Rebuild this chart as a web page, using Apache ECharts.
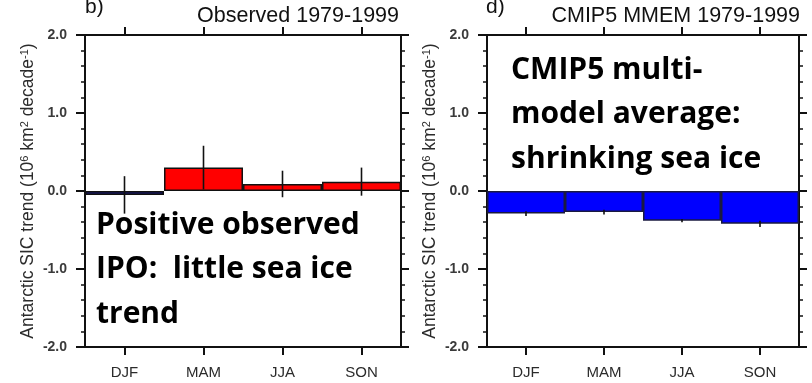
<!DOCTYPE html>
<html>
<head>
<meta charset="utf-8">
<title>Antarctic SIC trends 1979-1999</title>
<script src="https://cdn.jsdelivr.net/npm/echarts@6/dist/echarts.min.js"></script>
<style>
  html, body { margin: 0; padding: 0; background: #ffffff; }
  #chart { width: 812px; height: 383px; }
</style>
</head>
<body>
<div id="chart"></div>
<script>
// Seasons on the category axis
const seasons = ['DJF', 'MAM', 'JJA', 'SON'];

// Observed Antarctic SIC trend, 1979-1999 (10^6 km^2 per decade)
const observedTrend = [-0.05, 0.30, 0.09, 0.12];
const observedSpread = [0.24, 0.28, 0.17, 0.18];

// CMIP5 multi-model ensemble mean trend, 1979-1999
const mmemTrend = [-0.29, -0.27, -0.38, -0.42];
const mmemSpread = [0.03, 0.03, 0.02, 0.04];

// Y-axis tick values
const yTicks = [-2.0, -1.0, 0.0, 1.0, 2.0];

const panelTitles = ['Observed 1979-1999', 'CMIP5 MMEM 1979-1999'];
const panelLetters = ['b)', 'd)'];
const notes = [
  'Positive observed\nIPO:  little sea ice\ntrend',
  'CMIP5 multi-\nmodel average:\nshrinking sea ice'
];

const grids = [
  { left: 85, top: 35, width: 316, height: 312 },
  { left: 487, top: 35, width: 312, height: 312 }
];

const ink = '#111111';
const labelColor = '#2b2b2b';

function bottomAxis(gi) {
  return {
    type: 'category', gridIndex: gi, data: seasons, position: 'bottom',
    boundaryGap: true,
    axisLine: { show: true, onZero: false, lineStyle: { color: ink, width: 2 } },
    axisTick: { show: true, alignWithLabel: true, inside: false, length: 8, lineStyle: { color: ink, width: 2 } },
    axisLabel: { show: true, margin: 18, color: labelColor, fontSize: 15, fontFamily: 'Liberation Sans' },
    splitLine: { show: false }
  };
}
function topAxis(gi) {
  return {
    type: 'category', gridIndex: gi, data: seasons, position: 'top',
    boundaryGap: true,
    axisLine: { show: true, onZero: false, lineStyle: { color: ink, width: 2 } },
    axisTick: { show: true, alignWithLabel: true, length: 8, lineStyle: { color: ink, width: 2 } },
    axisLabel: { show: false },
    splitLine: { show: false }
  };
}
const yName = 'Antarctic SIC trend (10{sup|6} km{sup|2} decade{sup|-1})';
function leftAxis(gi) {
  return {
    type: 'value', gridIndex: gi, position: 'left',
    min: yTicks[0], max: yTicks[yTicks.length - 1], interval: 1,
    name: yName, nameLocation: 'middle', nameRotate: 90, nameGap: 47,
    nameTextStyle: {
      color: labelColor, fontSize: 17.5, fontFamily: 'Liberation Sans',
      rich: { sup: { fontSize: 11, color: labelColor, fontFamily: 'Liberation Sans', verticalAlign: 'top', padding: [0, 0, 8, 0] } }
    },
    axisLine: { show: true, onZero: false, lineStyle: { color: ink, width: 2 } },
    axisTick: { show: true, length: 9, lineStyle: { color: ink, width: 2 } },
    minorTick: { show: true, splitNumber: 5, length: 4, lineStyle: { color: ink, width: 1.5 } },
    axisLabel: {
      margin: 18, color: '#3a3a3a', fontSize: 14, fontWeight: 'bold', fontFamily: 'Liberation Sans',
      formatter: v => v.toFixed(1)
    },
    splitLine: { show: false }
  };
}
function rightAxis(gi) {
  return {
    type: 'value', gridIndex: gi, position: 'right',
    min: yTicks[0], max: yTicks[yTicks.length - 1], interval: 1,
    axisLine: { show: true, onZero: false, lineStyle: { color: ink, width: 2 } },
    axisTick: { show: true, length: 8, lineStyle: { color: ink, width: 2 } },
    minorTick: { show: true, splitNumber: 5, length: 4, lineStyle: { color: ink, width: 1.5 } },
    axisLabel: { show: false },
    splitLine: { show: false }
  };
}

function errorBars(xi, yi, values, spread) {
  return {
    type: 'custom', xAxisIndex: xi, yAxisIndex: yi, z: 5,
    data: values.map((v, i) => [i, v - spread[i], v + spread[i]]),
    renderItem: function (params, api) {
      const lo = api.coord([api.value(0), api.value(1)]);
      const hi = api.coord([api.value(0), api.value(2)]);
      return {
        type: 'line',
        shape: { x1: lo[0], y1: lo[1], x2: hi[0], y2: hi[1] },
        style: { stroke: ink, lineWidth: 1.6 }
      };
    }
  };
}

const option = {
  animation: false,
  backgroundColor: '#ffffff',
  grid: grids,
  xAxis: [bottomAxis(0), topAxis(0), bottomAxis(1), topAxis(1)],
  yAxis: [leftAxis(0), rightAxis(0), leftAxis(1), rightAxis(1)],
  series: [
    {
      type: 'bar', xAxisIndex: 0, yAxisIndex: 0, data: observedTrend,
      barWidth: '100%', z: 3,
      itemStyle: {
        color: p => (p.value < 0 ? '#15156e' : '#ff0000'),
        borderColor: ink, borderWidth: 1.5
      }
    },
    errorBars(0, 0, observedTrend, observedSpread),
    {
      type: 'bar', xAxisIndex: 2, yAxisIndex: 2, data: mmemTrend,
      barWidth: '100%', z: 3,
      itemStyle: { color: '#0000ff', borderColor: '#1a1a40', borderWidth: 1.5 }
    },
    errorBars(2, 2, mmemTrend, mmemSpread)
  ],
  graphic: [
    { type: 'text', left: 85, top: -3, style: { text: panelLetters[0], font: '21px "Liberation Sans"', fill: ink } },
    { type: 'text', right: 812 - 399, top: 5, style: { text: panelTitles[0], font: '21.5px "Liberation Sans"', fill: ink } },
    { type: 'text', left: 486, top: -3, style: { text: panelLetters[1], font: '21px "Liberation Sans"', fill: ink } },
    { type: 'text', right: 812 - 800, top: 5, style: { text: panelTitles[1], font: '21.5px "Liberation Sans"', fill: ink } },
    { type: 'text', left: 96, top: 203, z: 10, style: { text: notes[0], font: 'bold 30px "Open Sans"', lineHeight: 44.5, fill: '#000000' } },
    { type: 'text', left: 511, top: 48, z: 10, style: { text: notes[1], font: 'bold 30px "Open Sans"', lineHeight: 44.5, fill: '#000000' } }
  ]
};

const chart = echarts.init(document.getElementById('chart'), null, { renderer: 'canvas' });
chart.setOption(option);
</script>
</body>
</html>
